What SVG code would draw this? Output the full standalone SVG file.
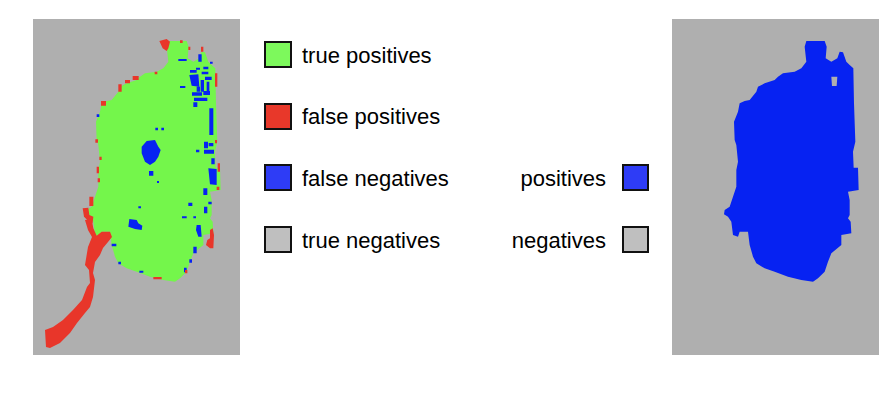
<svg xmlns="http://www.w3.org/2000/svg" xmlns:xlink="http://www.w3.org/1999/xlink" width="890" height="404" viewBox="0 0 890 404">
<style>
.bg{fill:#afafaf}
.tp{fill:#74f64b}
.fn{fill:#0622f2}
.fp{fill:#e8362a}
.box{stroke:#111;stroke-width:2}
.lbl{font-family:"Liberation Sans",Arial,sans-serif;font-size:22px;fill:#000}
</style>
<defs>
<path id="posShape" fill-rule="evenodd" d="M415,78 L470,78 L476,95 L473,130 L490,140 L508,130 L515,110 L525,112 L535,140 L545,150 L556,160 L558,265 L562,380 L555,410 L557,458 L570,458 L572,525 L540,530 L545,555 L545,600 L540,610 L548,620 L550,655 L520,660 L520,690 L490,715 L480,740 L470,770 L450,790 L435,800 L400,795 L360,785 L320,770 L290,760 L265,745 L255,725 L245,690 L240,650 L215,650 L210,665 L195,660 L190,620 L180,605 L168,598 L170,585 L185,575 L195,545 L205,515 L205,465 L210,440 L205,390 L200,375 L198,320 L210,290 L215,265 L230,258 L245,255 L265,230 L270,215 L290,205 L320,195 L330,185 L345,175 L380,170 L400,160 L415,140 L410,95 Z M490,185 L508,185 L506,213 L492,213 Z"/>
</defs>
<rect width="890" height="404" fill="#fff"/>

<g id="prediction">
<rect class="bg" x="33" y="19" width="207" height="336"/>
<g transform="translate(30,15) scale(0.33333)">
<use xlink:href="#posShape" href="#posShape" class="tp"/>
<path class="fn" d="M350,378 L375,375 L385,395 L392,405 L385,425 L375,440 L360,450 L345,440 L335,415 L335,395 Z M357,468 h13 v14 h-13 Z M376,338 h8 v8 h-8 Z M394,338 h8 v8 h-8 Z M381,498 h6 v6 h-6 Z M298,612 L320,615 L325,625 L337,632 L335,645 L315,642 L295,635 Z M445,132 h25 v6 h-25 Z M505,118 h10 v22 h-10 Z M498,158 h12 v6 h-12 Z M520,155 h15 v8 h-15 Z M480,165 h20 v8 h-20 Z M515,170 h20 v8 h-20 Z M525,185 h20 v10 h-20 Z M500,215 h10 v15 h-10 Z M478,180 L505,178 L508,215 L485,212 Z M512,195 h10 v35 h-10 Z M530,200 h8 v30 h-8 Z M486,232 h30 v10 h-30 Z M492,248 h40 v10 h-40 Z M520,228 h20 v12 h-20 Z M490,262 h12 v14 h-12 Z M538,280 h12 v80 h-12 Z M522,380 h12 v20 h-12 Z M536,384 h14 v10 h-14 Z M498,404 h10 v8 h-10 Z M522,404 h30 v12 h-30 Z M544,430 h10 v18 h-10 Z M535,460 L560,462 L560,510 L540,508 Z M520,520 h12 v20 h-12 Z M475,563 h12 v10 h-12 Z M456,604 h14 v6 h-14 Z M490,604 h8 v6 h-8 Z M522,575 h10 v20 h-10 Z M535,560 h10 v8 h-10 Z M500,630 L512,630 L515,665 L505,665 L498,645 Z M490,695 h10 v20 h-10 Z M478,733 h8 v10 h-8 Z M462,758 h8 v14 h-8 Z M245,686 h14 v8 h-14 Z M265,740 h8 v8 h-8 Z M328,767 h12 v6 h-12 Z M450,213 h16 v6 h-16 Z M325,574 h8 v6 h-8 Z M200,298 h8 v8 h-8 Z M540,140 h8 v6 h-8 Z"/>
<path class="fp" d="M165,615 L185,612 L190,640 L200,662 L215,650 L240,650 L246,666 L234,681 L219,699 L210,720 L195,741 L189,774 L195,795 L189,846 L180,876 L165,894 L141,924 L120,954 L90,984 L60,999 L48,996 L45,945 L69,936 L99,915 L129,885 L156,855 L171,816 L180,804 L177,765 L165,750 L171,714 L174,696 L186,666 L174,645 Z M158,580 L175,578 L178,600 L190,605 L188,625 L175,618 L162,605 Z M178,545 h12 v28 h-12 Z M200,455 h7 v20 h-7 Z M203,490 h7 v12 h-7 Z M208,425 h7 v10 h-7 Z M196,373 h8 v10 h-8 Z M213,258 h15 v14 h-15 Z M265,208 h10 v22 h-10 Z M285,195 h15 v10 h-15 Z M308,183 h18 v12 h-18 Z M374,170 h8 v8 h-8 Z M388,78 L410,72 L420,80 L415,100 L410,108 L398,100 Z M450,76 h8 v8 h-8 Z M475,95 h6 v10 h-6 Z M513,95 h7 v15 h-7 Z M555,175 h7 v40 h-7 Z M555,375 h6 v10 h-6 Z M563,445 h7 v25 h-7 Z M560,515 h8 v10 h-8 Z M540,645 L548,640 L552,660 L550,700 L540,700 L528,690 L532,675 L540,670 Z M465,765 h7 v10 h-7 Z M370,786 h25 v7 h-25 Z"/>
</g>
</g>

<g id="ground-truth">
<rect class="bg" x="672" y="19" width="207" height="336"/>
<g transform="translate(668,15) scale(0.33333)">
<use xlink:href="#posShape" href="#posShape" class="fn"/>
</g>
</g>

<g id="legend-tp">
<rect class="box" x="265" y="42" width="26" height="25" fill="#7df95c"/>
<text class="lbl" x="302" y="63">true positives</text>
</g>
<g id="legend-fp">
<rect class="box" x="265" y="104" width="26" height="25" fill="#e8382a"/>
<text class="lbl" x="302" y="124">false positives</text>
</g>
<g id="legend-fn">
<rect class="box" x="265" y="165" width="26" height="25" fill="#2e3cf6"/>
<text class="lbl" x="302" y="186">false negatives</text>
</g>
<g id="legend-tn">
<rect class="box" x="265" y="227" width="26" height="25" fill="#bfbfbf"/>
<text class="lbl" x="302" y="248">true negatives</text>
</g>
<g id="legend-pos">
<rect class="box" x="623" y="165" width="25" height="25" fill="#2e3cf6"/>
<text class="lbl" x="606" y="186" text-anchor="end">positives</text>
</g>
<g id="legend-neg">
<rect class="box" x="623" y="227" width="25" height="25" fill="#bfbfbf"/>
<text class="lbl" x="606" y="248" text-anchor="end">negatives</text>
</g>
<g id="connectors"/>
</svg>
